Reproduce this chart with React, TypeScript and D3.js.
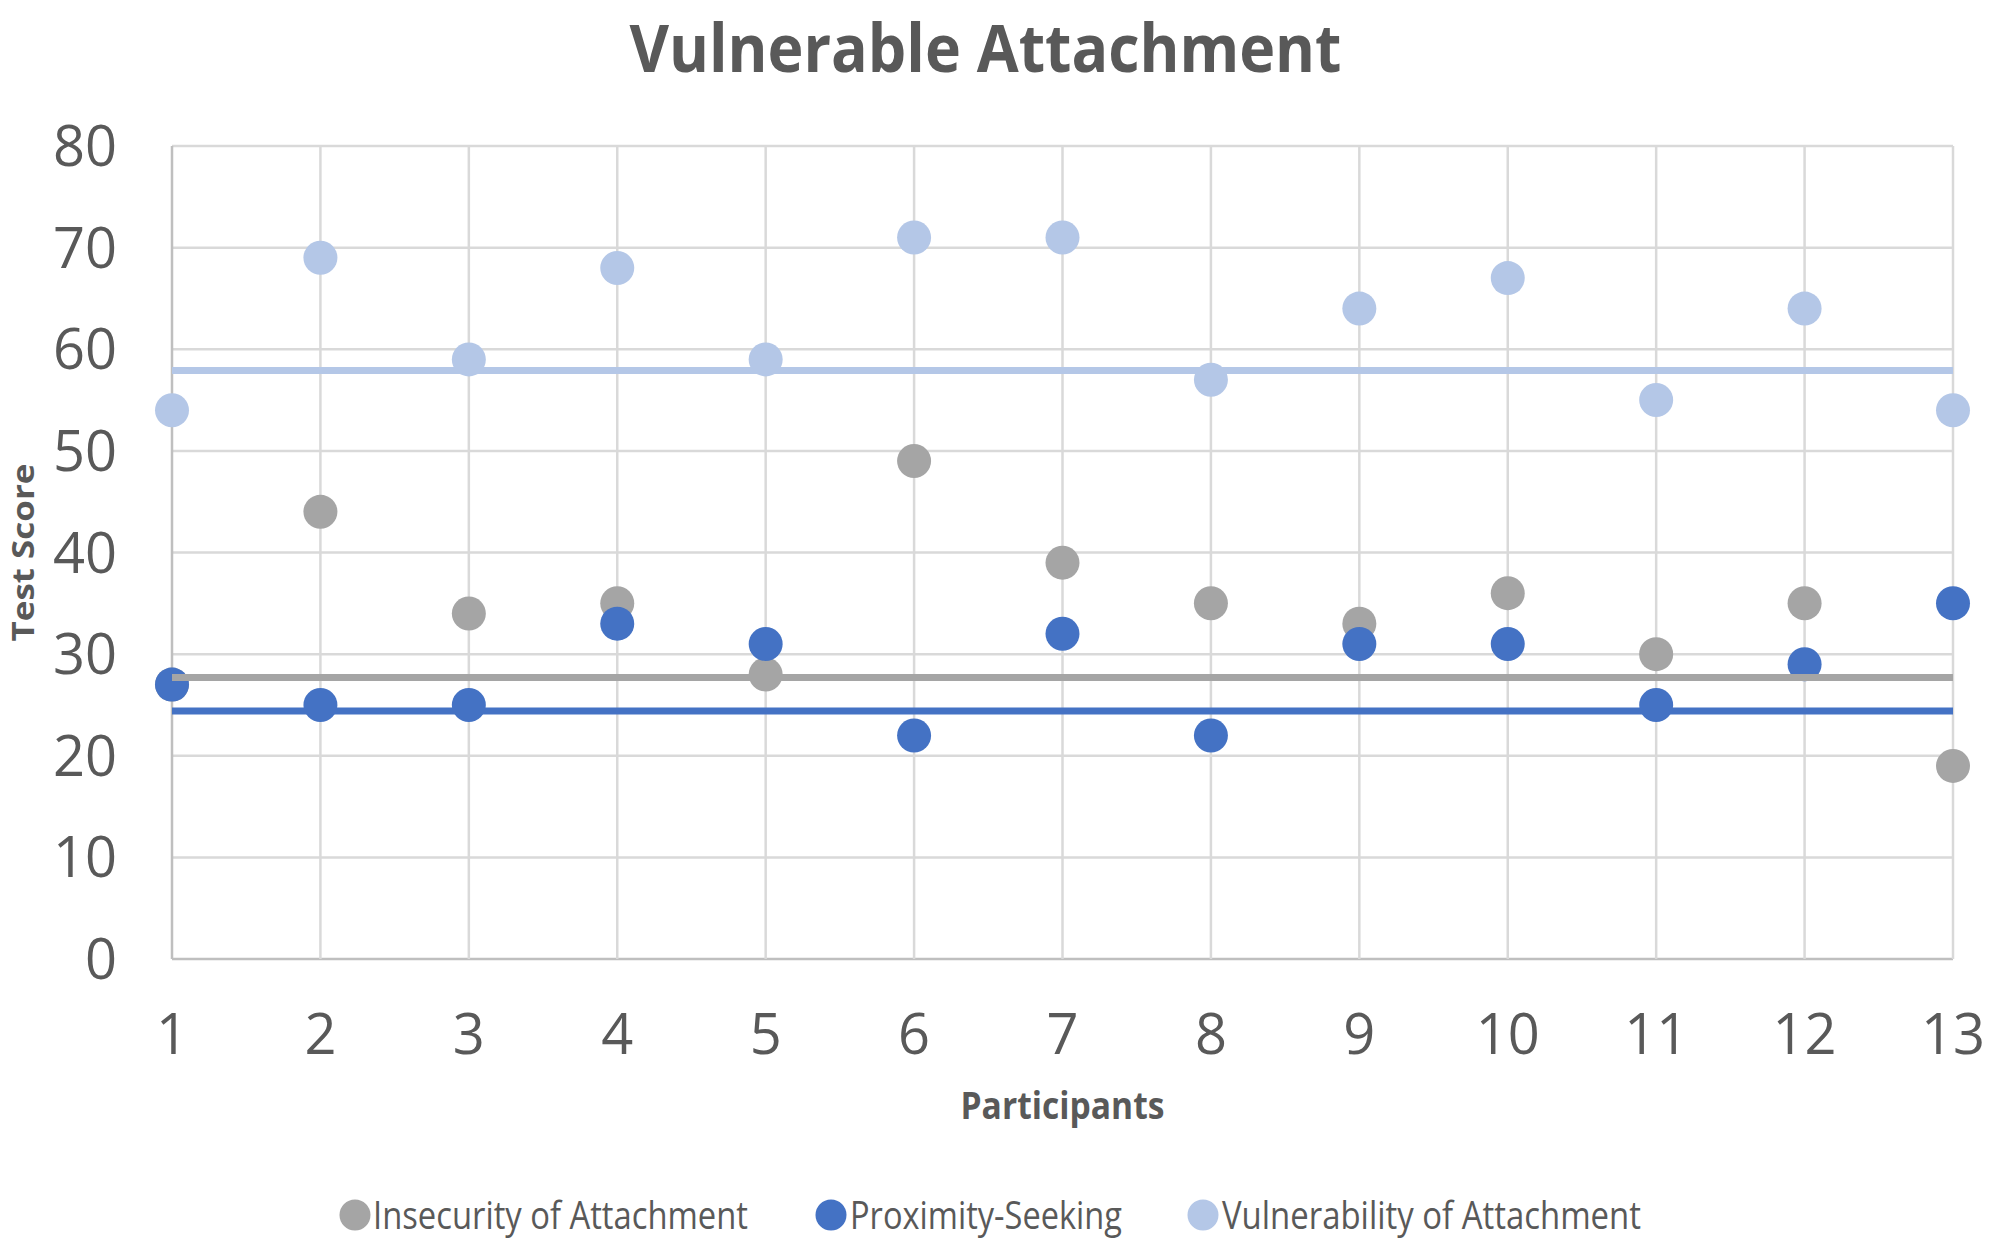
import React, { useEffect, useRef } from 'react';
import * as d3 from 'd3';

// values
const participants = [1, 2, 3, 4, 5, 6, 7, 8, 9, 10, 11, 12, 13];
const insecurity = [27, 44, 34, 35, 28, 49, 39, 35, 33, 36, 30, 35, 19];
const proximity = [27, 25, 25, 33, 31, 22, 32, 22, 31, 31, 25, 29, 35];
const vulnerability = [54, 69, 59, 68, 59, 71, 71, 57, 64, 67, 55, 64, 54];
const seriesNames = ['Insecurity of Attachment', 'Proximity-Seeking', 'Vulnerability of Attachment'];
const referenceLevels = [27.7, 24.4, 57.9];
const yTicks = [0, 10, 20, 30, 40, 50, 60, 70, 80];

const colors = ['#A5A5A5', '#4472C4', '#B4C7E7'];

const width = 1995;
const height = 1244;

const App: React.FC = () => {
  const svgRef = useRef<SVGSVGElement>(null);

  useEffect(() => {
    document.body.style.margin = '0';
    if (!svgRef.current) return;

    const svg = d3.select(svgRef.current);
    svg.selectAll('*').remove();

    const margin = { top: 146, right: 42, bottom: 285, left: 172 };
    const innerWidth = width - margin.left - margin.right;
    const innerHeight = height - margin.top - margin.bottom;
    const font = '"Open Sans", sans-serif';
    const textColor = '#595959';

    const xScale = d3.scaleLinear()
      .domain([participants[0], participants[participants.length - 1]])
      .range([0, innerWidth]);

    const yScale = d3.scaleLinear()
      .domain([0, 80])
      .range([innerHeight, 0]);

    svg.append('rect')
      .attr('width', width)
      .attr('height', height)
      .attr('fill', '#ffffff');

    // Title
    svg.append('text')
      .attr('x', width / 2 - 12)
      .attr('y', 72)
      .attr('text-anchor', 'middle')
      .attr('textLength', 712)
      .attr('lengthAdjust', 'spacingAndGlyphs')
      .style('font-family', font)
      .style('font-size', '67px')
      .style('font-weight', 'bold')
      .style('fill', textColor)
      .text('Vulnerable Attachment');

    const g = svg.append('g')
      .attr('transform', `translate(${margin.left},${margin.top})`);

    // Grid
    g.selectAll('.hgrid')
      .data(yTicks)
      .enter().append('line')
      .attr('x1', 0)
      .attr('x2', innerWidth)
      .attr('y1', d => yScale(d))
      .attr('y2', d => yScale(d))
      .attr('stroke', d => (d === 0 ? '#BFBFBF' : '#D9D9D9'))
      .attr('stroke-width', 2.5);

    g.selectAll('.vgrid')
      .data(participants)
      .enter().append('line')
      .attr('x1', d => xScale(d))
      .attr('x2', d => xScale(d))
      .attr('y1', 0)
      .attr('y2', innerHeight)
      .attr('stroke', (d, i) => (i === 0 ? '#BFBFBF' : '#D9D9D9'))
      .attr('stroke-width', 2.5);

    // Y tick labels
    g.selectAll('.ytick')
      .data(yTicks)
      .enter().append('text')
      .attr('x', -55)
      .attr('y', d => yScale(d) + 20)
      .attr('text-anchor', 'end')
      .style('font-family', font)
      .style('font-size', '56px')
      .style('fill', textColor)
      .text(d => d);

    // X tick labels
    g.selectAll('.xtick')
      .data(participants)
      .enter().append('text')
      .attr('x', d => xScale(d))
      .attr('y', innerHeight + 95)
      .attr('text-anchor', 'middle')
      .style('font-family', font)
      .style('font-size', '56px')
      .style('fill', textColor)
      .text(d => d);

    // Axis titles
    g.append('text')
      .attr('x', innerWidth / 2)
      .attr('y', innerHeight + 160)
      .attr('text-anchor', 'middle')
      .attr('textLength', 204)
      .attr('lengthAdjust', 'spacingAndGlyphs')
      .style('font-family', font)
      .style('font-size', '37px')
      .style('font-weight', 'bold')
      .style('fill', textColor)
      .text('Participants');

    g.append('text')
      .attr('transform', `translate(${34 - margin.left},${innerHeight / 2}) rotate(-90)`)
      .attr('text-anchor', 'middle')
      .attr('textLength', 178)
      .attr('lengthAdjust', 'spacingAndGlyphs')
      .style('font-family', font)
      .style('font-size', '31px')
      .style('font-weight', 'bold')
      .style('fill', textColor)
      .text('Test Score');

    // Points
    const series = [insecurity, proximity, vulnerability];
    series.forEach((values, si) => {
      g.selectAll(`.dot-${si}`)
        .data(values)
        .enter().append('circle')
        .attr('cx', (d, i) => xScale(participants[i]))
        .attr('cy', d => yScale(d))
        .attr('r', 17)
        .attr('fill', colors[si]);
    });

    // Reference levels drawn over the points
    referenceLevels.forEach((level, si) => {
      const line = d3.line<number>()
        .x(d => xScale(d))
        .y(() => yScale(level));
      g.append('path')
        .attr('d', line([participants[0], participants[participants.length - 1]]))
        .attr('fill', 'none')
        .attr('stroke', colors[si])
        .attr('stroke-width', 7);
    });

    // Legend
    const legendY = 1215;
    const legendItems = [
      { marker: 355, text: 373, len: 375 },
      { marker: 831, text: 850, len: 272 },
      { marker: 1203, text: 1222, len: 419 },
    ];
    const legend = svg.append('g');
    seriesNames.forEach((name, i) => {
      legend.append('circle')
        .attr('cx', legendItems[i].marker)
        .attr('cy', legendY)
        .attr('r', 15.5)
        .attr('fill', colors[i]);
      legend.append('text')
        .attr('x', legendItems[i].text)
        .attr('y', legendY + 14)
        .attr('textLength', legendItems[i].len)
        .attr('lengthAdjust', 'spacingAndGlyphs')
        .style('font-family', font)
        .style('font-size', '39px')
        .style('fill', textColor)
        .text(name);
    });
  }, []);

  return <svg ref={svgRef} width={width} height={height} style={{ display: 'block' }} />;
};

export default App;
